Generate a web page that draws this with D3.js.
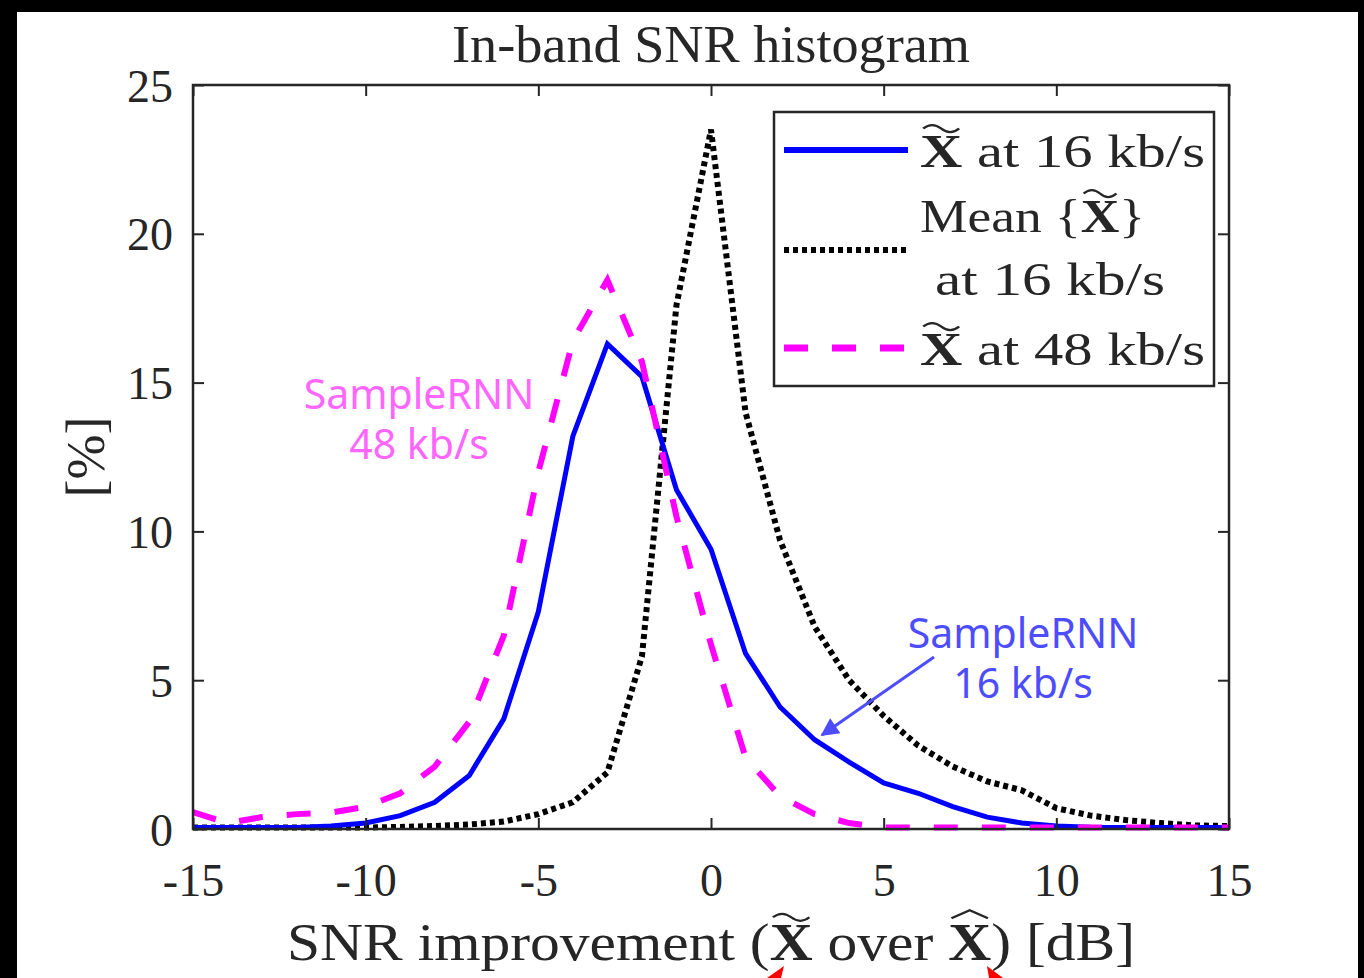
<!DOCTYPE html>
<html>
<head>
<meta charset="utf-8">
<script src="https://cdn.jsdelivr.net/npm/d3@7"></script>
<style>
  html, body { margin: 0; padding: 0; background: #000; }
  svg { display: block; }
  .serif { font-family: "Liberation Serif", "DejaVu Serif", serif; fill: #262626; white-space: pre; }
  .note { font-family: "Noto Sans", "Open Sans", sans-serif; }
</style>
</head>
<body>
<script>
// SNR improvement bins [dB]
const snrBins = [-15, -14, -13, -12, -11, -10, -9, -8, -7, -6, -5, -4, -3, -2, -1, 0,
  1, 2, 3, 4, 5, 6, 7, 8, 9, 10, 11, 12, 13, 14, 15];

// X~ at 16 kb/s
const pct16 = [0.05, 0.05, 0.05, 0.05, 0.1, 0.2, 0.45, 0.9, 1.8, 3.7, 7.3, 13.2, 16.3, 15.2, 11.4, 9.4,
  5.9, 4.1, 3.0, 2.25, 1.55, 1.2, 0.75, 0.4, 0.2, 0.1, 0.06, 0.05, 0.05, 0.05, 0.05];

// Mean{X~} at 16 kb/s
const pctMean = [0.05, 0.05, 0.05, 0.05, 0.05, 0.05, 0.07, 0.1, 0.15, 0.25, 0.5, 0.9, 1.9, 5.8, 17.6, 23.5,
  14.0, 9.7, 6.8, 5.0, 3.8, 2.8, 2.1, 1.6, 1.3, 0.7, 0.45, 0.3, 0.2, 0.12, 0.1];

// X~ at 48 kb/s
const pct48 = [0.57, 0.2, 0.4, 0.5, 0.55, 0.75, 1.2, 2.1, 3.6, 6.5, 12.0, 16.4, 18.45, 15.7, 10.5, 6.2,
  2.4, 1.1, 0.5, 0.2, 0.05, 0.05, 0.05, 0.05, 0.05, 0.05, 0.05, 0.05, 0.05, 0.05, 0.05];

const xTicks = [-15, -10, -5, 0, 5, 10, 15];
const yTicks = [0, 5, 10, 15, 20, 25];

const W = 1364, H = 978;
const pLeft = 193, pRight = 1229, pTop = 85, pBottom = 829;

const svg = d3.select('body').append('svg')
  .attr('width', W)
  .attr('height', H);

// black frame around the white figure
svg.append('rect').attr('width', W).attr('height', H).attr('fill', '#000');
svg.append('rect')
  .attr('x', 17).attr('y', 12)
  .attr('width', 1358 - 17).attr('height', H - 12)
  .attr('fill', '#fff');

const x = d3.scaleLinear().domain([-15, 15]).range([pLeft, pRight]);
const y = d3.scaleLinear().domain([0, 25]).range([pBottom, pTop]);

// draws a run of text pieces into its own group, then squeezes / stretches it to width
const mathRun = (parent, x0, y0, size, parts, width) => {
  const g = parent.append('g');
  let cx = 0;
  parts.forEach(p => {
    const t = g.append('text')
      .attr('class', 'serif')
      .attr('x', cx)
      .attr('y', 0)
      .style('font-size', size + 'px')
      .style('font-weight', p.accent ? 'bold' : 'normal')
      .text(p.t);
    const w = t.node().getComputedTextLength();
    if (p.accent) {
      const mid = cx + w / 2;
      const aw = w * 0.85;
      const ay = -size * 0.86;
      let d;
      if (p.accent === 'tilde') {
        d = `M${mid - aw / 2},${ay + 2} q${aw / 4},-7 ${aw / 2},0 t${aw / 2},0`;
      } else {
        d = `M${mid - aw / 2},${ay + 3} L${mid},${ay - 5} L${mid + aw / 2},${ay + 3}`;
      }
      g.append('path').attr('d', d)
        .attr('fill', 'none').attr('stroke', '#262626').attr('stroke-width', 2.2);
    }
    cx += w;
  });
  const k = width ? width / cx : 1;
  g.attr('transform', `translate(${x0},${y0}) scale(${k},1)`);
  return g;
};

// series
const line = d3.line()
  .x((d, i) => x(snrBins[i]))
  .y(d => y(d));

const series = [
  { values: pctMean, color: '#000', width: 6, dash: '5,4' },
  { values: pct16, color: '#0000ff', width: 5, dash: null },
  { values: pct48, color: '#ff00ff', width: 6, dash: '24,24' }
];

series.forEach(s => {
  svg.append('path')
    .datum(s.values)
    .attr('d', line)
    .attr('fill', 'none')
    .attr('stroke', s.color)
    .attr('stroke-width', s.width)
    .attr('stroke-dasharray', s.dash);
});

// axes box
const axisColor = '#262626';
svg.append('rect')
  .attr('x', pLeft).attr('y', pTop)
  .attr('width', pRight - pLeft).attr('height', pBottom - pTop)
  .attr('fill', 'none')
  .attr('stroke', axisColor)
  .attr('stroke-width', 2.5);

const fmt = d => String(d);
const xAxis = svg.append('g').attr('transform', `translate(0,${pBottom})`)
  .call(d3.axisBottom(x).tickValues(xTicks).tickSizeInner(-11).tickSizeOuter(0).tickFormat(fmt));
const xAxisTop = svg.append('g').attr('transform', `translate(0,${pTop})`)
  .call(d3.axisTop(x).tickValues(xTicks).tickSizeInner(-11).tickSizeOuter(0).tickFormat(''));
const yAxis = svg.append('g').attr('transform', `translate(${pLeft},0)`)
  .call(d3.axisLeft(y).tickValues(yTicks).tickSizeInner(-11).tickSizeOuter(0).tickFormat(fmt));
const yAxisRight = svg.append('g').attr('transform', `translate(${pRight},0)`)
  .call(d3.axisRight(y).tickValues(yTicks).tickSizeInner(-11).tickSizeOuter(0).tickFormat(''));

[xAxis, xAxisTop, yAxis, yAxisRight].forEach(a => {
  a.select('.domain').remove();
  a.selectAll('.tick line').attr('stroke', axisColor).attr('stroke-width', 2);
  a.selectAll('.tick text')
    .attr('class', 'serif')
    .attr('fill', '#262626')
    .style('font-size', '46px');
});
xAxis.selectAll('.tick text').attr('dy', '0.71em').attr('y', 34);
yAxis.selectAll('.tick text').attr('x', -20).attr('dy', '0.35em');

// title
svg.append('text')
  .attr('class', 'serif')
  .attr('x', 452).attr('y', 62)
  .attr('textLength', 518)
  .attr('lengthAdjust', 'spacingAndGlyphs')
  .style('font-size', '52px')
  .text('In-band SNR histogram');

// y label
svg.append('text')
  .attr('class', 'serif')
  .attr('transform', 'translate(104,457) rotate(-90)')
  .attr('text-anchor', 'middle')
  .style('font-size', '54px')
  .text('[%]');

// x label
mathRun(svg, 287, 960, 52, [
  { t: 'SNR improvement (' },
  { t: 'X', accent: 'tilde' },
  { t: ' over ' },
  { t: 'X', accent: 'hat' },
  { t: ') [dB]' }
], 848);

// legend
const lg = svg.append('g');
lg.append('rect')
  .attr('x', 774).attr('y', 112)
  .attr('width', 1214 - 774).attr('height', 386 - 112)
  .attr('fill', '#fff')
  .attr('stroke', axisColor)
  .attr('stroke-width', 2.5);

const legendRows = [
  { color: '#0000ff', width: 6, dash: null, ly: 150 },
  { color: '#000', width: 6, dash: '5,4', ly: 250 },
  { color: '#ff00ff', width: 7, dash: '24,24', ly: 348 }
];
legendRows.forEach(r => {
  lg.append('line')
    .attr('x1', 784).attr('x2', 908)
    .attr('y1', r.ly).attr('y2', r.ly)
    .attr('stroke', r.color)
    .attr('stroke-width', r.width)
    .attr('stroke-dasharray', r.dash);
});
mathRun(lg, 920, 167, 47, [{ t: 'X', accent: 'tilde' }, { t: ' at 16 kb/s' }], 285);
mathRun(lg, 920, 232, 47, [{ t: 'Mean {' }, { t: 'X', accent: 'tilde' }, { t: '}' }], 225);
mathRun(lg, 935, 295, 47, [{ t: 'at 16 kb/s' }], 230);
mathRun(lg, 920, 365, 47, [{ t: 'X', accent: 'tilde' }, { t: ' at 48 kb/s' }], 285);

// annotations
const notes = [
  { lines: ['SampleRNN', '48 kb/s'], cx: 419, y0: 409, color: '#ff66ff' },
  { lines: ['SampleRNN', '16 kb/s'], cx: 1023, y0: 648, color: '#4d4dff' }
];
notes.forEach(n => {
  n.lines.forEach((l, i) => {
    svg.append('text')
      .attr('class', 'note')
      .attr('x', n.cx).attr('y', n.y0 + i * 50)
      .attr('text-anchor', 'middle')
      .attr('fill', n.color)
      .style('font-size', '41px')
      .text(l);
  });
});

svg.append('defs').append('marker')
  .attr('id', 'arr')
  .attr('viewBox', '0 0 10 10')
  .attr('refX', 9).attr('refY', 5)
  .attr('markerWidth', 7).attr('markerHeight', 6)
  .attr('orient', 'auto')
  .append('path')
  .attr('d', 'M0,0 L10,5 L0,10 Z')
  .attr('fill', '#4d4dff');

svg.append('line')
  .attr('x1', 934).attr('y1', 657)
  .attr('x2', 822).attr('y2', 735)
  .attr('stroke', '#4d4dff')
  .attr('stroke-width', 3)
  .attr('marker-end', 'url(#arr)');

// red arrow tips cut off at the bottom edge
svg.append('path').attr('d', 'M767,978 L784,966 L781,978 Z').attr('fill', '#ff0000');
svg.append('path').attr('d', 'M987,966 L1003,978 L989,978 Z').attr('fill', '#ff0000');
</script>
</body>
</html>
